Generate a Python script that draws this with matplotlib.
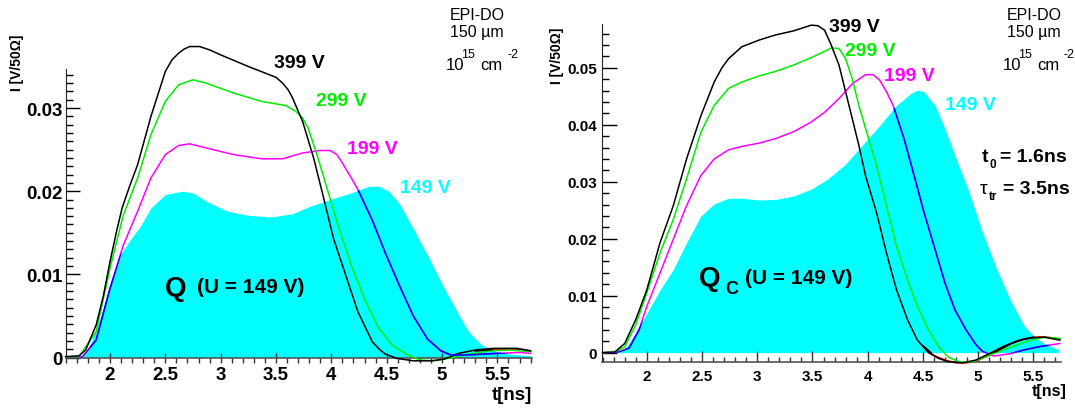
import numpy as np
import matplotlib.pyplot as plt
from matplotlib.ticker import MultipleLocator, FuncFormatter

plt.rcParams['font.family'] = ['Liberation Sans', 'DejaVu Sans']
plt.rcParams['font.weight'] = 'bold'

W, H = 1075, 410

# ---- left panel: Q, current I [V/50 Ohm] vs t [ns]
l399_t = [1.6, 1.72, 1.78, 1.875, 1.94, 2.0, 2.06, 2.11, 2.18, 2.25, 2.37, 2.5, 2.56, 2.62, 2.67, 2.72, 2.81,
          2.9, 3.0, 3.25, 3.5, 3.56, 3.61, 3.65, 3.74, 3.84, 3.93, 4.02, 4.12, 4.24, 4.37, 4.44, 4.49, 4.59,
          4.74, 4.9, 5.02, 5.15, 5.3, 5.46, 5.68, 5.8]
l399_i = [0.0001, 0.0002, 0.0009, 0.0039, 0.0074, 0.0115, 0.0152, 0.018, 0.0207, 0.0232, 0.029, 0.0344, 0.0358,
          0.0366, 0.0371, 0.0374, 0.0374, 0.0370, 0.0364, 0.035, 0.0337, 0.0330, 0.0322, 0.0312, 0.0284, 0.024,
          0.0192, 0.0143, 0.0103, 0.0055, 0.0019, 0.0009, 0.0004, -0.0001, -0.0004, -0.0004, -0.0002, 0.0005,
          0.0009, 0.0011, 0.0011, 0.0008]
l299_t = [1.6, 1.72, 1.875, 2.0, 2.12, 2.25, 2.37, 2.5, 2.62, 2.75, 2.87, 3.12, 3.37, 3.59, 3.68, 3.74, 3.79,
          3.87, 3.96, 4.06, 4.18, 4.31, 4.43, 4.55, 4.68, 4.8, 4.93, 5.05, 5.24, 5.43, 5.61, 5.8]
l299_i = [0.0001, 0.0001, 0.0031, 0.0107, 0.0171, 0.0216, 0.0268, 0.0308, 0.0328, 0.0334, 0.033, 0.0318, 0.0308,
          0.0303, 0.0296, 0.0288, 0.0276, 0.0244, 0.0204, 0.0159, 0.0111, 0.0067, 0.0035, 0.0015, 0.0004,
          -0.0003, -0.0004, -0.0001, 0.0004, 0.0008, 0.0009, 0.0007]
l199_t = [1.6, 1.75, 1.875, 2.0, 2.12, 2.25, 2.37, 2.5, 2.62, 2.72, 2.87, 3.12, 3.37, 3.56, 3.74, 3.9, 3.99,
          4.05, 4.09, 4.18, 4.24, 4.37, 4.49, 4.62, 4.74, 4.87, 4.99, 5.08, 5.21, 5.36, 5.5, 5.7, 5.8]
l199_i = [0.0001, 0.0001, 0.0021, 0.0083, 0.0135, 0.0176, 0.0216, 0.0244, 0.0255, 0.0257, 0.0252, 0.0244, 0.0239,
          0.0239, 0.0246, 0.0249, 0.0249, 0.0244, 0.0236, 0.0216, 0.0202, 0.0165, 0.0125, 0.0085, 0.005, 0.0022,
          0.0008, 0.0003, 0.0003, 0.0004, 0.0005, 0.0006, 0.0005]
l149_t = [1.6, 1.75, 1.81, 1.91, 2.0, 2.09, 2.19, 2.28, 2.37, 2.5, 2.65, 2.75, 2.87, 3.06, 3.25, 3.46, 3.65,
          3.81, 3.99, 4.18, 4.34, 4.43, 4.52, 4.62, 4.74, 4.87, 4.99, 5.12, 5.24, 5.36, 5.49, 5.61, 5.8]
l149_i = [0.0, 0.0001, 0.0011, 0.0047, 0.0087, 0.0123, 0.0143, 0.0159, 0.018, 0.0196, 0.02, 0.0198, 0.0188,
          0.0176, 0.0171, 0.0169, 0.0173, 0.0182, 0.019, 0.0198, 0.0206, 0.0206, 0.02, 0.0184, 0.0155, 0.0123,
          0.0091, 0.0059, 0.0031, 0.0015, 0.0007, 0.0004, 0.0002]
lred_t = [5.3, 5.5, 5.7, 5.8]
lred_i = [0.0008, 0.0010, 0.0010, 0.0008]

# ---- right panel: Q_c
r399_t = [1.6, 1.71, 1.80, 1.90, 2.0, 2.12, 2.24, 2.36, 2.49, 2.61, 2.68, 2.74, 2.86, 3.02, 3.17, 3.33, 3.49,
          3.55, 3.61, 3.67, 3.74, 3.80, 3.86, 3.92, 3.98, 4.08, 4.17, 4.26, 4.36, 4.45, 4.55, 4.64, 4.73, 4.86,
          4.98, 5.11, 5.23, 5.36, 5.48, 5.60, 5.74]
r399_i = [0.0, 0.0001, 0.0016, 0.0058, 0.011, 0.0193, 0.0258, 0.034, 0.0416, 0.0475, 0.0500, 0.0516, 0.0537,
          0.0549, 0.0558, 0.0565, 0.0575, 0.0574, 0.0566, 0.054, 0.0505, 0.0458, 0.0411, 0.0364, 0.0311, 0.0246,
          0.0175, 0.0111, 0.0058, 0.0022, 0.0, -0.001, -0.0016, -0.0018, -0.0013, -0.0001, 0.0011, 0.0021,
          0.0026, 0.0027, 0.0022]
r299_t = [1.6, 1.71, 1.80, 1.90, 2.0, 2.12, 2.24, 2.36, 2.49, 2.61, 2.74, 2.86, 3.02, 3.17, 3.33, 3.49, 3.61,
          3.67, 3.74, 3.80, 3.86, 3.92, 4.0, 4.08, 4.17, 4.26, 4.36, 4.45, 4.55, 4.64, 4.73, 4.83, 4.95, 5.07,
          5.23, 5.36, 5.48, 5.60, 5.74]
r299_i = [0.0, 0.0001, 0.001, 0.0049, 0.0105, 0.0175, 0.0234, 0.0305, 0.0387, 0.0434, 0.0464, 0.0475, 0.0486,
          0.0494, 0.0505, 0.0518, 0.0529, 0.0535, 0.0534, 0.0516, 0.0481, 0.0434, 0.0381, 0.0328, 0.0258, 0.0187,
          0.0128, 0.0081, 0.004, 0.0011, -0.0008, -0.0016, -0.0016, -0.0007, 0.0005, 0.0014, 0.0022, 0.0027,
          0.0025]
r199_t = [1.6, 1.74, 1.84, 1.93, 2.0, 2.12, 2.24, 2.36, 2.49, 2.61, 2.74, 2.86, 3.02, 3.17, 3.33, 3.49, 3.61,
          3.74, 3.86, 3.98, 4.05, 4.11, 4.17, 4.23, 4.33, 4.42, 4.51, 4.61, 4.70, 4.79, 4.89, 4.98, 5.04, 5.14,
          5.29, 5.42, 5.57, 5.74]
r199_i = [0.0, 0.0001, 0.0008, 0.004, 0.0081, 0.014, 0.0199, 0.0258, 0.0311, 0.034, 0.0356, 0.0362, 0.0368,
          0.0376, 0.0388, 0.0405, 0.0422, 0.0446, 0.0472, 0.0488, 0.0488, 0.0478, 0.0458, 0.0434, 0.0375, 0.0311,
          0.0246, 0.0181, 0.0122, 0.0075, 0.004, 0.0014, 0.0002, -0.0006, -0.0002, 0.0005, 0.0011, 0.0016]
r149_t = [1.6, 1.71, 1.80, 1.90, 2.0, 2.12, 2.24, 2.36, 2.49, 2.61, 2.74, 2.86, 3.02, 3.17, 3.33, 3.49, 3.64,
          3.80, 3.95, 4.11, 4.26, 4.39, 4.45, 4.51, 4.61, 4.70, 4.79, 4.92, 5.04, 5.17, 5.29, 5.42, 5.51, 5.60, 5.73]
r149_i = [0.0, 0.0001, 0.0006, 0.0034, 0.0069, 0.011, 0.0146, 0.0193, 0.024, 0.0261, 0.0271, 0.0271, 0.0268,
          0.0269, 0.0275, 0.0287, 0.0305, 0.0331, 0.0364, 0.0399, 0.0434, 0.0455, 0.0461, 0.0458, 0.0434, 0.0393,
          0.0346, 0.0281, 0.0211, 0.0146, 0.0093, 0.0046, 0.0028, 0.0016, 0.0005]
rred_t = [4.5, 4.6, 4.7, 4.8, 4.9, 5.0, 5.1, 5.2, 5.3, 5.4, 5.5, 5.6, 5.74]
rred_i = [0.0012, -0.0005, -0.0013, -0.0018, -0.0018, -0.0013, -0.0005, 0.0006, 0.0016, 0.0023, 0.0027,
          0.0028, 0.0024]

CYAN = '#00ffff'


def px(x, y):
    return x / W, 1 - y / H


def panel(ax, lines, fill_t, fill_i, xlim, ylim, ymaj, ymin, fs, xtick, ytick):
    poly = ax.fill_between(fill_t, 0, fill_i, color=CYAN, lw=0, zorder=1)
    path = poly.get_paths()[0]
    for t, i, col, under in lines:
        ax.plot(t, i, color=col, lw=1.1, clip_on=False, zorder=3, solid_joinstyle='round')
        if under != col:
            # the fill sits "on top" of the curves: colour seen through cyan
            ln, = ax.plot(t, i, color=under, lw=1.1, zorder=4, solid_joinstyle='round')
            ln.set_clip_path(path, ax.transData)
    ax.set_xlim(*xlim)
    ax.set_ylim(*ylim)
    ax.xaxis.set_major_locator(MultipleLocator(0.5))
    ax.xaxis.set_minor_locator(MultipleLocator(0.1))
    ax.yaxis.set_major_locator(MultipleLocator(ymaj))
    ax.yaxis.set_minor_locator(MultipleLocator(ymin))
    fmt = FuncFormatter(lambda v, p: '0' if abs(v) < 1e-9 else f'{v:g}')
    ax.xaxis.set_major_formatter(fmt)
    ax.yaxis.set_major_formatter(fmt)
    for s in ['top', 'right']:
        ax.spines[s].set_visible(False)
    ax.spines['left'].set_color('#222222')
    ax.spines['bottom'].set_color('#555555')
    ax.spines['bottom'].set_linewidth(1.2)
    ax.tick_params(axis='x', which='major', labelsize=fs, **xtick[0])
    ax.tick_params(axis='x', which='minor', **xtick[1])
    ax.tick_params(axis='y', which='major', direction='in', labelsize=fs, **ytick[0])
    ax.tick_params(axis='y', which='minor', direction='in', **ytick[1])
    ax.set_facecolor('none')


fig = plt.figure(figsize=(W / 100, H / 100), dpi=100)
axL = fig.add_axes([65.7 / W, (H - 358.5) / H, 466 / W, (358.5 - 70) / H])
axR = fig.add_axes([601.5 / W, (H - 363.3) / H, 459.5 / W, (363.3 - 25) / H])

panel(axL,
      [(lred_t, lred_i, 'red', 'black'),
       (l199_t, l199_i, '#ff00ff', '#0000ff'),
       (l299_t, l299_i, '#00ee00', '#00ee00'),
       (l399_t, l399_i, 'black', 'black')],
      l149_t, l149_i, (1.6, 5.81), (0, 0.0347), 0.01, 0.001, 13.5,
      (dict(direction='inout', length=6.5, width=1, pad=3, color='#333333'),
       dict(direction='out', length=3.6, width=1, color='#333333')),
      (dict(length=10, width=1, pad=2.5), dict(length=5, width=1)))

panel(axR,
      [(rred_t, rred_i, 'red', 'black'),
       (r199_t, r199_i, '#ff00ff', '#0000ff'),
       (r299_t, r299_i, '#00ee00', '#00ee00'),
       (r399_t, r399_i, 'black', 'black')],
      r149_t, r149_i, (1.59, 5.75), (-0.0017, 0.0577), 0.01, 0.002, 11,
      (dict(direction='in', length=7.7, width=1, pad=5, color='#333333'),
       dict(direction='in', length=3.6, width=1, color='#333333')),
      (dict(length=10.8, width=1, pad=3), dict(length=5.3, width=1)))

# axis titles
fig.text(*px(17, 63), 'I [V/50Ω]', rotation=90, ha='center', va='center', fontsize=10)
fig.text(*px(557, 56), 'I [V/50Ω]', rotation=90, ha='center', va='center', fontsize=10)
fig.text(*px(532, 396), 't[ns]', ha='right', va='center', fontsize=13.5)
fig.text(*px(1067, 392), 't[ns]', ha='right', va='center', fontsize=11.5)

# voltage labels
for x, y, s, c in [(274, 64, '399 V', 'black'), (316, 102, '299 V', '#00ee00'),
                   (347, 150, '199 V', '#ff00ff'), (400, 189, '149 V', CYAN),
                   (829, 27, '399 V', 'black'), (845, 51, '299 V', '#00ee00'),
                   (884, 77, '199 V', '#ff00ff'), (945, 105, '149 V', CYAN)]:
    fig.text(*px(x, y), s, color=c, ha='left', va='center', fontsize=14)

# sample info
for cx in (477, 1034):
    fig.text(*px(cx, 15), 'EPI-DO', ha='center', va='center', fontsize=11.5, fontweight='normal')
    fig.text(*px(cx, 33), '150 µm', ha='center', va='center', fontsize=11.5, fontweight='normal')
    fig.text(*px(cx - 31, 66), '10', ha='left', va='center', fontsize=12, fontweight='normal')
    fig.text(*px(cx - 16, 55), '15', ha='left', va='center', fontsize=9, fontweight='normal')
    fig.text(*px(cx + 3, 66), 'cm', ha='left', va='center', fontsize=12, fontweight='normal')
    fig.text(*px(cx + 30, 55), '-2', ha='left', va='center', fontsize=9, fontweight='normal')

# charge labels
fig.text(*px(165, 289), 'Q', ha='left', va='center', fontsize=20)
fig.text(*px(197, 288), '(U = 149 V)', ha='left', va='center', fontsize=15)
fig.text(*px(699, 279), 'Q', ha='left', va='center', fontsize=20)
fig.text(*px(725, 290), 'C', ha='left', va='center', fontsize=13)
fig.text(*px(745, 278), '(U = 149 V)', ha='left', va='center', fontsize=15)

# fit parameters
fig.text(*px(982, 158), 't', ha='left', va='center', fontsize=14)
fig.text(*px(989, 165), '0', ha='left', va='center', fontsize=8.5)
fig.text(*px(1000, 158), '= 1.6ns', ha='left', va='center', fontsize=14)
fig.text(*px(980, 190), 'τ', ha='left', va='center', fontsize=14, fontweight='normal')
fig.text(*px(989, 197), 'tr', ha='left', va='center', fontsize=8.5)
fig.text(*px(1003, 190), '= 3.5ns', ha='left', va='center', fontsize=14)

fig.savefig('out.png', dpi=100)
